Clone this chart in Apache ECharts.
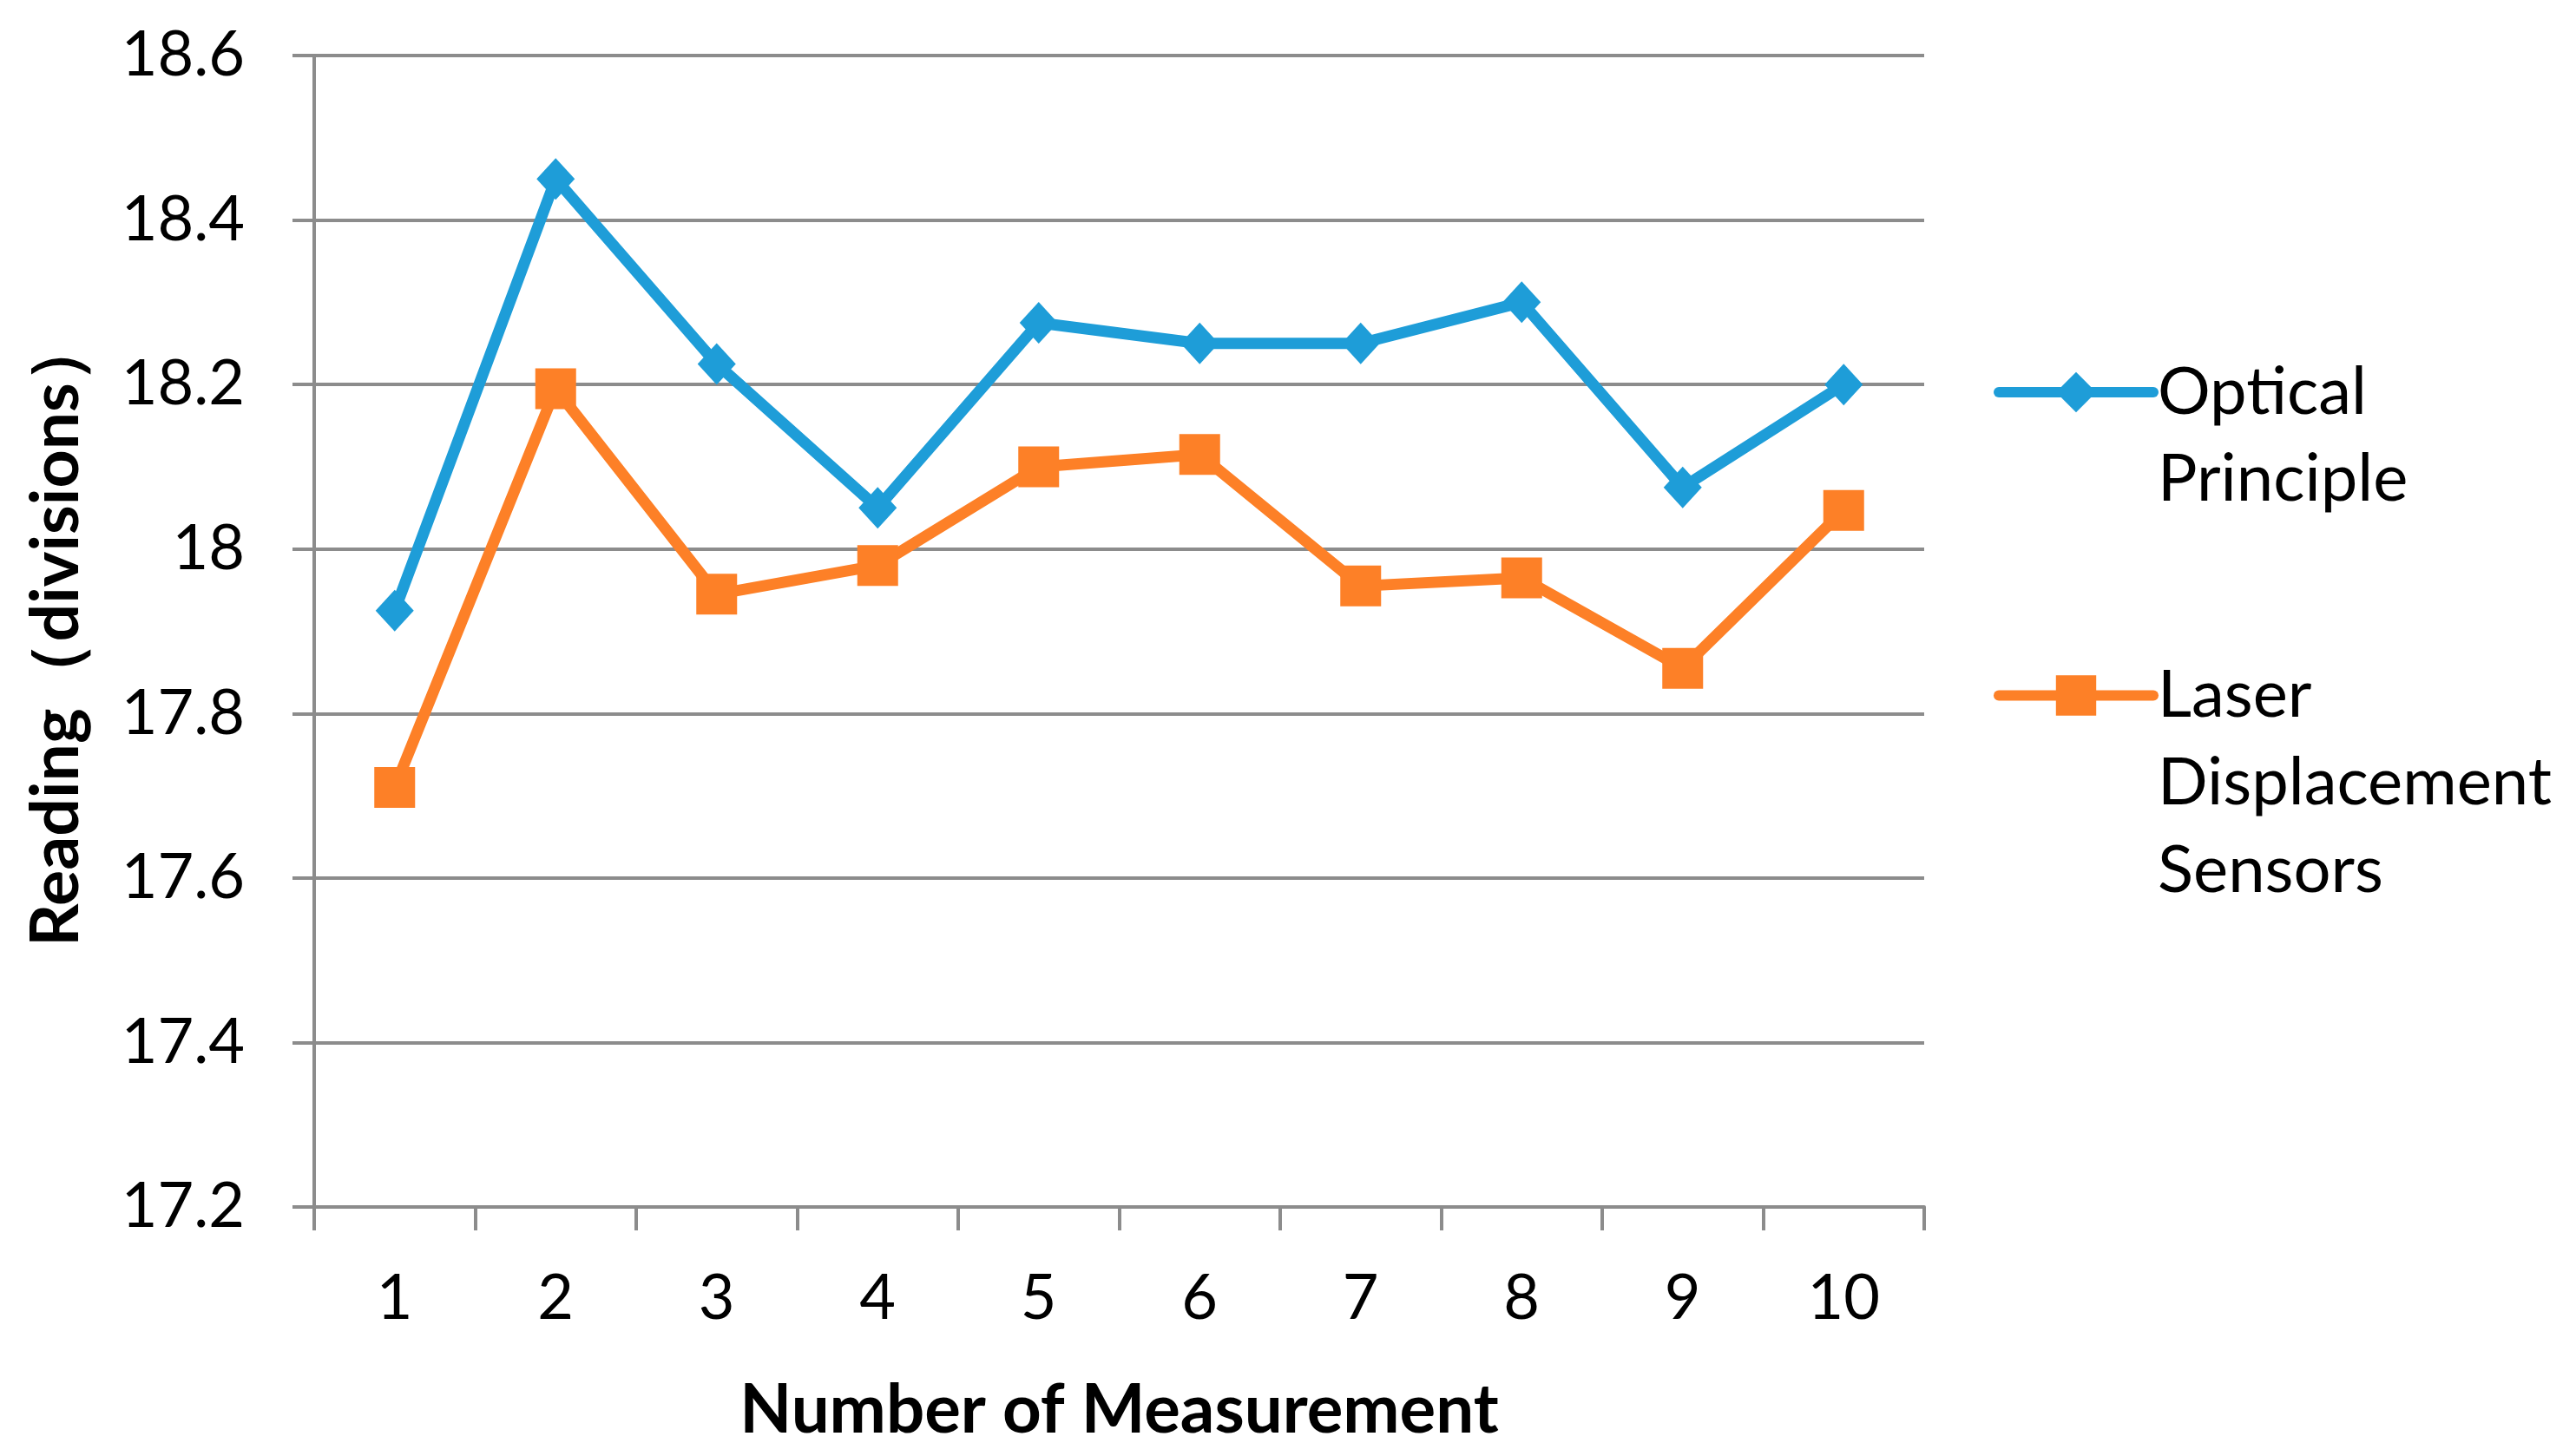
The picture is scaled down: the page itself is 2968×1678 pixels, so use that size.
<!DOCTYPE html>
<html>
<head>
<meta charset="utf-8">
<style>
html,body{margin:0;padding:0;background:#fff;}
#chart{width:2968px;height:1678px;}
</style>
<script src="https://cdn.jsdelivr.net/npm/echarts@6/dist/echarts.min.js"></script>
</head>
<body>
<div id="chart"></div>
<script>
var categories = ['1','2','3','4','5','6','7','8','9','10'];
var opticalPrinciple = [17.925, 18.45, 18.225, 18.05, 18.275, 18.25, 18.25, 18.30, 18.075, 18.20];
var laserDisplacement = [17.71, 18.195, 17.945, 17.98, 18.10, 18.115, 17.955, 17.965, 17.855, 18.047];
var seriesNames = ['Optical Principle', 'Laser Displacement Sensors'];
var xAxisTitle = 'Number of Measurement';
var yAxisTitle = 'Reading（divisions）';

var FONT = 'Lato';
var BLUE = '#1E9DD8';
var ORANGE = '#FD8027';
var GRAY = '#8C8C8C';

// Legend label: put the first word-line level with the icon (like the reference)
function legendLabel(name) {
  var words = name.split(' ');
  var pad = [];
  for (var i = 0; i < words.length - 1; i++) pad.push('');
  return pad.concat(words).join('\n');
}

var chart = echarts.init(document.getElementById('chart'));
chart.setOption({
  animation: false,
  backgroundColor: '#ffffff',
  grid: { left: 362, right: 751, top: 64, bottom: 287, containLabel: false },
  xAxis: {
    type: 'category',
    data: categories,
    boundaryGap: true,
    axisLine: { show: true, lineStyle: { color: GRAY, width: 4 } },
    axisTick: { show: true, length: 27, lineStyle: { color: GRAY, width: 4 } },
    axisLabel: { margin: 70, fontSize: 72, fontFamily: FONT, color: '#000' },
    splitLine: { show: false },
    name: xAxisTitle,
    nameLocation: 'middle',
    nameGap: 196,
    nameTextStyle: { fontSize: 78, fontWeight: 'bold', fontFamily: FONT, color: '#000' }
  },
  yAxis: {
    type: 'value',
    min: 17.2,
    max: 18.6,
    interval: 0.2,
    axisLine: { show: true, lineStyle: { color: GRAY, width: 4 } },
    axisTick: { show: true, length: 25, lineStyle: { color: GRAY, width: 4 } },
    axisLabel: { margin: 80, fontSize: 72, fontFamily: FONT, color: '#000',
      formatter: function (v) { return String(Math.round(v * 10) / 10); } },
    splitLine: { show: true, lineStyle: { color: GRAY, width: 4 } },
    name: yAxisTitle,
    nameLocation: 'middle',
    nameGap: 258,
    nameTextStyle: { fontSize: 77, fontWeight: 'bold', fontFamily: FONT, color: '#000' }
  },
  legend: [
    {
      data: [seriesNames[0]],
      orient: 'vertical',
      left: 2297,
      top: 302,
      padding: 0,
      itemWidth: 178,
      itemHeight: 58,
      lineStyle: { width: 12, cap: 'round' },
      formatter: legendLabel,
      textStyle: { fontSize: 76, fontFamily: FONT, color: '#000', lineHeight: 100 }
    },
    {
      data: [seriesNames[1]],
      orient: 'vertical',
      left: 2297,
      top: 549,
      padding: 0,
      itemWidth: 178,
      itemHeight: 58,
      lineStyle: { width: 12, cap: 'round' },
      formatter: legendLabel,
      textStyle: { fontSize: 76, fontFamily: FONT, color: '#000', lineHeight: 101 }
    }
  ],
  series: [
    {
      name: seriesNames[0],
      type: 'line',
      data: opticalPrinciple,
      symbol: 'diamond',
      symbolSize: [44, 48],
      lineStyle: { color: BLUE, width: 13 },
      itemStyle: { color: BLUE },
      z: 3
    },
    {
      name: seriesNames[1],
      type: 'line',
      data: laserDisplacement,
      symbol: 'rect',
      symbolSize: 47,
      lineStyle: { color: ORANGE, width: 13 },
      itemStyle: { color: ORANGE },
      z: 2
    }
  ]
});
</script>
</body>
</html>
